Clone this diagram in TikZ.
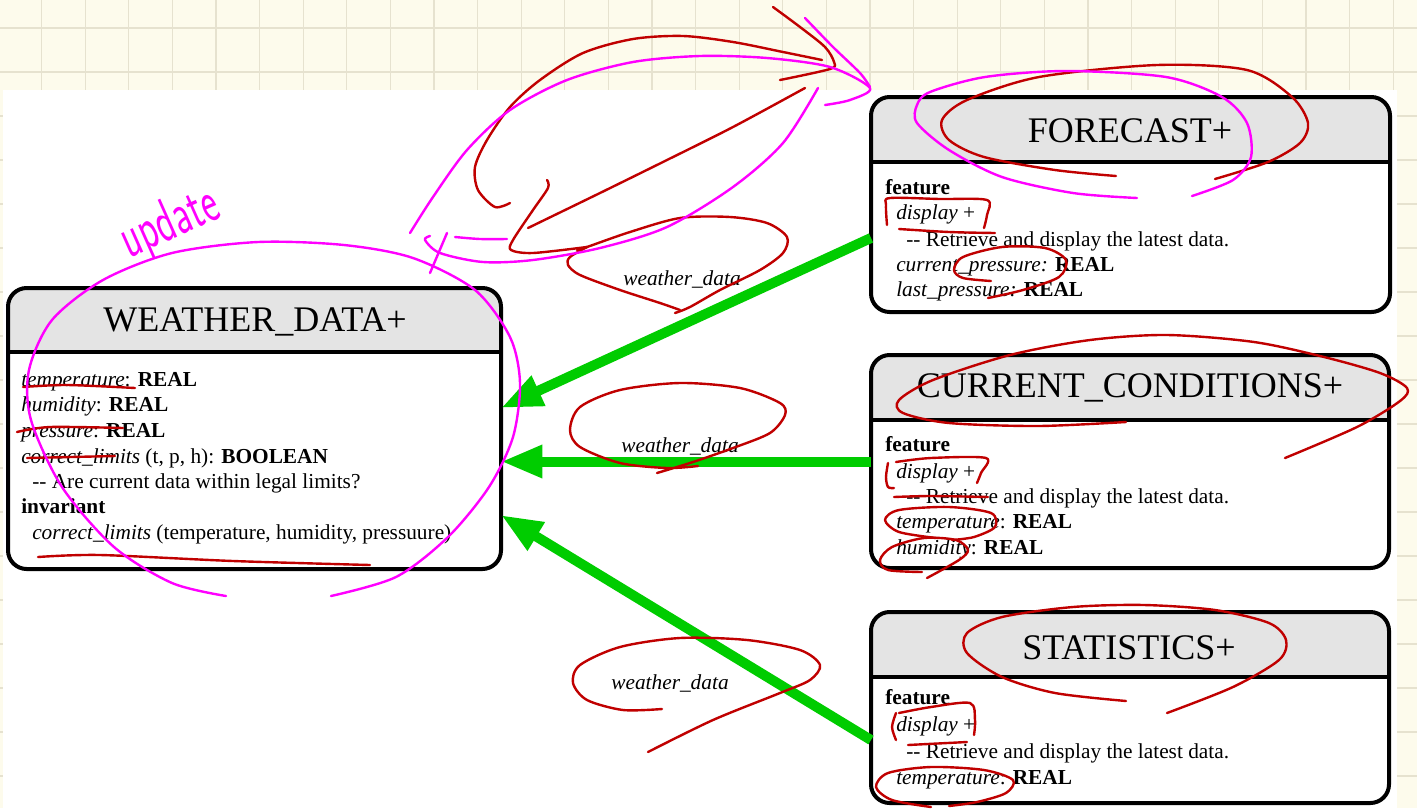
\documentclass[tikz,border=0pt]{standalone}
\usepackage{fontspec}
\setmainfont{Liberation Serif}
\usetikzlibrary{arrows.meta}
\definecolor{paper}{HTML}{FDFBEC}
\definecolor{gridc}{HTML}{E6E2CF}
\definecolor{headgray}{HTML}{E4E4E4}
\definecolor{arrowgreen}{HTML}{00CC00}
\definecolor{inkred}{HTML}{C00000}
\definecolor{inkmag}{HTML}{FF00FF}
\begin{document}
\begin{tikzpicture}[x=0.75pt,y=-0.75pt,
  frame/.style={draw=black, line width=3pt, rounded corners=14pt, inner sep=0pt, outer sep=0pt},
  sepline/.style={draw=black, line width=3pt},
  titletext/.style={font=\fontsize{27}{30}\selectfont, anchor=center, inner sep=0pt},
  body/.style={font=\fontsize{16}{19}\selectfont, anchor=base west, inner sep=0pt},
  lbl/.style={font=\fontsize{16}{19}\selectfont\itshape, inner sep=0pt},
  flow/.style={draw=arrowgreen, line width=7.5pt, -{Triangle[length=31pt,width=23pt]}, arrowgreen},
  redink/.style={draw=inkred, line width=1.8pt, line cap=round, line join=round},
  magink/.style={draw=inkmag, line width=1.8pt, line cap=round, line join=round},
]
\useasboundingbox (0,0) rectangle (1417,808);
% paper background with grid
\fill[paper] (0,0) rectangle (1417,808);
\foreach \gx in {0,...,32} \draw[gridc, line width=0.8pt] ({41.6+43.6*\gx},0) -- ({41.6+43.6*\gx},808);
\foreach \gy in {0,...,18} \draw[gridc, line width=1.2pt] (0,{28+44*\gy}) -- (1417,{28+44*\gy});
\fill[white] (3,90) rectangle (1397,808);

% ---------- WEATHER_DATA ----------
\begin{scope}
  \clip[rounded corners=14pt] (8,288) rectangle (501,569);
  \fill[white] (8,288) rectangle (501,569);
  \fill[headgray] (8,288) rectangle (501,352);
\end{scope}
\draw[sepline] (8,352) -- (501,352);
\node[frame, minimum width=369.75pt, minimum height=210.75pt] (wd) at (254.5,428.5) {};
\node[titletext] (wdt) at (255,322) {WEATHER\_DATA+};
\node[body] (wd1) at (21,386) {\textit{temperature}: \textbf{REAL}};
\node[body] (wd2) at (21,411) {\textit{humidity}: \textbf{REAL}};
\node[body] (wd3) at (21,437) {\textit{pressure}: \textbf{REAL}};
\node[body] (wd4) at (21,463) {\textit{correct\_limits} (t, p, h): \textbf{BOOLEAN}};
\node[body] (wd5) at (32,488) {-{}- Are current data within legal limits?};
\node[body] (wd6) at (21,513) {\textbf{invariant}};
\node[body] (wd7) at (32,539) {\textit{correct\_limits} (temperature, humidity, pressuure)};

% ---------- FORECAST ----------
\begin{scope}
  \clip[rounded corners=14pt] (871,97) rectangle (1390,312);
  \fill[white] (871,97) rectangle (1390,312);
  \fill[headgray] (871,97) rectangle (1390,162);
\end{scope}
\draw[sepline] (871,162) -- (1390,162);
\node[frame, minimum width=389.25pt, minimum height=161.25pt] (fc) at (1130.5,204.5) {};
\node[titletext] (fct) at (1130,131) {FORECAST+};
\node[body] (fc1) at (885,194) {\textbf{feature}};
\node[body] (fc2) at (896,219) {\textit{display} +};
\node[body] (fc3) at (906,246) {-{}- Retrieve and display the latest data.};
\node[body] (fc4) at (896,271) {\textit{current\_pressure:} \textbf{REAL}};
\node[body] (fc5) at (896,296) {\textit{last\_pressure:} \textbf{REAL}};

% ---------- CURRENT_CONDITIONS ----------
\begin{scope}
  \clip[rounded corners=14pt] (871,355) rectangle (1389,568);
  \fill[white] (871,355) rectangle (1389,568);
  \fill[headgray] (871,355) rectangle (1389,420);
\end{scope}
\draw[sepline] (871,420) -- (1389,420);
\node[frame, minimum width=388.5pt, minimum height=159.75pt] (cc) at (1130,461.5) {};
\node[titletext] (cct) at (1130,388) {CURRENT\_CONDITIONS+};
\node[body] (cc1) at (885,451) {\textbf{feature}};
\node[body] (cc2) at (896,478) {\textit{display} +};
\node[body] (cc3) at (906,503) {-{}- Retrieve and display the latest data.};
\node[body] (cc4) at (896,528) {\textit{temperature}: \textbf{REAL}};
\node[body] (cc5) at (896,554) {\textit{humidity}: \textbf{REAL}};

% ---------- STATISTICS ----------
\begin{scope}
  \clip[rounded corners=14pt] (871,612) rectangle (1389,803);
  \fill[white] (871,612) rectangle (1389,803);
  \fill[headgray] (871,612) rectangle (1389,677);
\end{scope}
\draw[sepline] (871,677) -- (1389,677);
\node[frame, minimum width=388.5pt, minimum height=143.25pt] (st) at (1130,707.5) {};
\node[titletext] (stt) at (1129,648) {STATISTICS+};
\node[body] (st1) at (885,704) {\textbf{feature}};
\node[body] (st2) at (896,731) {\textit{display} +};
\node[body] (st3) at (906,758) {-{}- Retrieve and display the latest data.};
\node[body] (st4) at (896,784) {\textit{temperature}: \textbf{REAL}};

% ---------- client arrows ----------
\draw[flow] ([yshift=-25.1pt]fc.west) -- ([yshift=15.4pt]wd.east);
\draw[flow] (cc.west) -- (cc.west -| wd.east);
\draw[flow] ([yshift=-24.4pt]st.west) -- ([yshift=-64.9pt]wd.east);
\node[lbl] (l1) at (682,279) {weather\_data};
\node[lbl] (l2) at (680,446) {weather\_data};
\node[lbl] (l3) at (670,683) {weather\_data};

% ---------- red ink ----------
\draw[redink] plot[smooth] coordinates {(510,203) (495,207) (478,190) (475,167) (487,140) (510,107) (540,80) (583,53) (633,39) (683,36) (733,42) (783,52) (822,60)};
\draw[redink] plot[smooth] coordinates {(773,7) (800,27) (825,47) (834,62) (830,69) (780,80)};
\draw[redink] plot[smooth] coordinates {(805,88) (733,127) (667,160) (600,193) (528,228)};
\draw[redink] plot[smooth] coordinates {(547,180) (548,188) (533,210) (513,240) (511,250) (533,253) (587,247)};
\draw[redink] plot[smooth] coordinates {(587,247) (570,257) (568,265) (580,275) (620,290) (660,303) (680,310)};
\draw[redink] plot[smooth] coordinates {(675,313) (690,307) (720,290) (760,270) (783,253) (787,237) (767,223) (730,217) (680,218) (630,232) (587,247) (577,250)};
\draw[redink] plot[smooth] coordinates {(698,466) (667,468) (620,463) (580,447) (570,430) (580,407) (620,390) (680,383) (740,388) (780,403) (785,415) (770,433) (733,448) (693,462) (657,473)};
\draw[redink] plot[smooth] coordinates {(662,709) (623,710) (587,700) (573,683) (580,665) (620,647) (680,638) (747,640) (800,650) (820,665) (810,680) (780,693) (713,720) (648,752)};
% weather_data box marks
\draw[redink] plot[smooth] coordinates {(23,387) (67,385) (135,388)};
\draw[redink] plot[smooth] coordinates {(17,432) (50,427) (123,428)};
\draw[redink] plot[smooth] coordinates {(27,458) (115,456)};
\draw[redink] plot[smooth] coordinates {(38,557) (100,555) (233,561) (370,565)};
% forecast marks
\draw[redink] plot[smooth] coordinates {(1116,176) (1055,170) (984,157) (949,140) (942,120) (967,100) (1039,77) (1157,65) (1247,70) (1292,97) (1308,123) (1300,143) (1268,162) (1215,179)};
\draw[redink] plot[smooth] coordinates {(887,225) (886,205) (890,198) (940,199) (987,200) (987,215) (984,228)};
\draw[redink] plot[smooth] coordinates {(899,229) (949,232) (995,233)};
\draw[redink] plot[smooth] coordinates {(991,281) (963,278) (954,270) (963,257) (1002,247) (1045,248) (1066,260) (1059,277) (1023,290) (988,298)};
% current conditions marks
\draw[redink] plot[smooth] coordinates {(1126,422) (1038,426) (949,423) (903,413) (899,400) (933,380) (1010,355) (1090,340) (1167,335) (1254,342) (1324,357) (1380,373) (1407,388) (1400,401) (1357,427) (1285,458)};
\draw[redink] plot[smooth] coordinates {(888,463) (886,477) (888,487) (894,488)};
\draw[redink] plot[smooth] coordinates {(896,462) (931,458) (986,458) (981,473) (977,483)};
\draw[redink] plot[smooth] coordinates {(894,497) (931,496) (988,497)};
\draw[redink] plot[smooth] coordinates {(936,538) (899,532) (885,520) (899,510) (949,507) (991,513) (995,527) (974,537) (952,540)};
\draw[redink] plot[smooth] coordinates {(922,572) (888,570) (880,560) (892,547) (924,538) (956,540) (968,550) (959,560) (927,578)};
% statistics marks
\draw[redink] plot[smooth] coordinates {(1126,701) (1055,693) (1002,677) (967,653) (967,633) (1002,617) (1073,607) (1144,605) (1215,610) (1269,623) (1286,640) (1279,660) (1233,687) (1167,713)};
\draw[redink] plot[smooth] coordinates {(896,713) (892,727) (896,740)};
\draw[redink] plot[smooth] coordinates {(899,713) (931,707) (970,703) (975,720) (974,735)};
\draw[redink] plot[smooth] coordinates {(908,745) (967,742)};
\draw[redink] plot[smooth] coordinates {(931,807) (892,800) (876,787) (888,773) (931,767) (984,770) (1013,780) (1006,793) (977,802) (949,806)};

% ---------- magenta ink ----------
\draw[magink] plot[smooth] coordinates {(226,596) (172,583) (114,547) (62,487) (31,420) (29,370) (52,320) (103,280) (172,253) (258,242) (344,245) (413,258) (475,290) (510,337) (520,383) (513,437) (489,487) (448,537) (396,577) (331,596)};
\draw[magink] plot[smooth] coordinates {(410,233) (433,197) (467,150) (510,110) (567,80) (633,62) (700,56) (767,58) (830,67) (870,88) (850,100) (825,105)};
\draw[magink] plot[smooth] coordinates {(805,18) (833,47) (860,73) (870,87)};
\draw[magink] plot[smooth] coordinates {(818,88) (783,143) (733,187) (667,227) (600,248) (533,260) (483,262) (440,253) (425,240) (430,236)};
\draw[magink] (447,233) -- (430,273);
\draw[magink] plot[smooth] coordinates {(455,237) (480,239) (507,239)};
\draw[magink] plot[smooth] coordinates {(1137,198) (1073,193) (1002,177) (949,150) (917,123) (917,105) (930,92) (985,77) (1066,71) (1166,77) (1222,97) (1247,123) (1251,157) (1233,180) (1192,196)};
\node[text=inkmag, font=\sffamily\fontsize{30}{32}\selectfont, rotate=24, inner sep=0pt] (upd) at (170,224) {\scalebox{0.95}[1.5]{update}};
\end{tikzpicture}
\end{document}
